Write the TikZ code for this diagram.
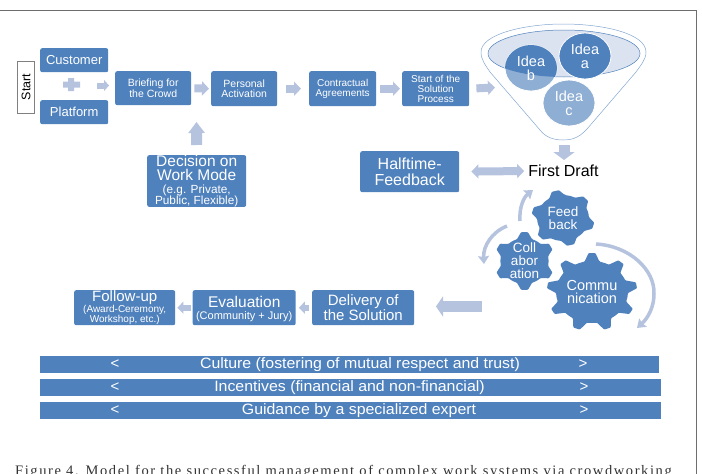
\documentclass[tikz,border=0pt]{standalone}
\usepackage{fontspec}
\setmainfont{Liberation Sans}
\newfontfamily\capfont[LetterSpace=11]{Liberation Serif}
\usetikzlibrary{arrows.meta,calc}
\definecolor{boxblue}{HTML}{4F81BD}
\definecolor{paleblue}{HTML}{B5C3DE}
\definecolor{midblue}{HTML}{8FAED4}
\definecolor{ideawash}{HTML}{DCE3F0}
\definecolor{framegray}{HTML}{6E6E6E}
\tikzset{
  x=1pt,y=-1pt,
  box/.style={fill=boxblue,rounded corners=2pt,text=white,align=center,inner sep=0pt,anchor=north west,font=\fontsize{#1}{#1}\selectfont},
  box/.default=10,
  band/.style={fill=boxblue,anchor=north west,inner sep=0pt},
  bandtext/.style={text=white,inner sep=0pt,font=\fontsize{15}{15}\selectfont},
  flow/.style={draw=paleblue,line width=#1,-{Triangle[length=7pt,width=1.75*#1]}},
  flow/.default=8pt,
  bothways/.style={draw=paleblue,line width=8pt,{Triangle[length=7pt,width=14pt]}-{Triangle[length=7pt,width=14pt]}},
  curl/.style={draw=paleblue,line width=3.5pt,line cap=butt,-{Stealth[length=8pt,width=11pt,inset=1pt]}},
  ideatext/.style={text=white,align=center,font=\fontsize{14.5}{14}\selectfont,inner sep=0pt},
  geartext/.style={text=white,align=center,font=\fontsize{#1}{13}\selectfont,inner sep=0pt},
}
% toothed wheel: centre x, y, body radius, tip radius, teeth, phase, horizontal stretch
\newcommand{\wheel}[7]{%
  \fill[boxblue,rounded corners=0.8pt]
    ({#1+#7*#3*cos(#6-0.30*360/#5)},{#2-#3*sin(#6-0.30*360/#5)})
    \foreach \k [evaluate=\k as \ang using #6+(\k-1)*360/#5, evaluate=\k as \wid using 360/#5] in {1,...,#5}{
      -- ({#1+#7*#3*cos(\ang-0.30*\wid)},{#2-#3*sin(\ang-0.30*\wid)})
      -- ({#1+#7*#4*cos(\ang-0.11*\wid)},{#2-#4*sin(\ang-0.11*\wid)})
      -- ({#1+#7*#4*cos(\ang+0.11*\wid)},{#2-#4*sin(\ang+0.11*\wid)})
      -- ({#1+#7*#3*cos(\ang+0.30*\wid)},{#2-#3*sin(\ang+0.30*\wid)})
      -- ({#1+#7*#3*cos(\ang+0.50*\wid)},{#2-#3*sin(\ang+0.50*\wid)})
    } -- cycle;}
\begin{document}
\begin{tikzpicture}
\useasboundingbox (0,0) rectangle (702,474);
\begin{scope}
\clip (0,0) rectangle (702,474);
% page frame
\draw[framegray,line width=0.9pt] (0,10) -- (696.5,10) -- (696.5,474);

% start marker and the two parties
\node[draw=gray,fill=white,line width=0.7pt,minimum width=17pt,minimum height=52pt,inner sep=0pt] (start) at (26,87)
  {\rotatebox{90}{\fontsize{12.5}{12}\selectfont Start}};
\node[box=13,minimum width=68pt,minimum height=24pt] (cust) at (40,48) {Customer};
\node[box=13,minimum width=68pt,minimum height=24pt] (plat) at (40,100) {Platform};
\fill[paleblue] (68,78) rectangle (74,91) (63,81.5) rectangle (80,87.5);

% top row
\node[box=10.5,minimum width=76pt,minimum height=34pt] (brief) at (115,71) {Briefing for\\the Crowd};
\node[box=10.5,minimum width=66pt,minimum height=35pt] (pers) at (211,71) {Personal\\Activation};
\node[box=10,minimum width=67pt,minimum height=35pt] (contr) at (309,71) {Contractual\\Agreements};
\node[box=10,minimum width=67pt,minimum height=35pt] (sol) at (402,71) {Start of the\\Solution\\Process};
\coordinate (plusout) at (97,85.5);
\coordinate (briefin) at (109,85.5);
\draw[flow=6pt,-{Triangle[length=5pt,width=11pt]}] (plusout) -- (briefin);
\draw[flow,shorten <=3pt,shorten >=2pt] (brief.east) -- (pers.west);
\draw[flow,shorten <=9pt,shorten >=8pt] (pers.east) -- (contr.west);
\draw[flow,shorten <=4pt,shorten >=2pt] (contr.east) -- (sol.west);
\coordinate (funnelin) at (495,87.5);
\draw[flow,shorten <=7pt] (sol.east) -- (funnelin);

% work-mode decision
\node[box=15.5,minimum width=99pt,minimum height=50pt] (mode) at (147,155)
  {Decision on\\[-1pt]Work Mode\\[-3pt]{\fontsize{11.8}{11}\selectfont (e.g. Private,}\\[-4.5pt]{\fontsize{11.8}{11}\selectfont Public, Flexible)}};
\coordinate (modeup) at (196.5,122);
\draw[flow=11pt,-{Triangle[length=11pt,width=16pt]},shorten <=10pt] (mode.north) -- (modeup);

% funnel of ideas
\draw[boxblue!70!white,line width=0.5pt,fill=white]
  (481,52) .. controls (481,34) and (525,24) .. (563,24) .. controls (605,24) and (646,34) .. (646,52)
  .. controls (646,60) and (640,66) .. (636,72) -- (587,129)
  .. controls (578,139) and (570,140) .. (563,140)
  .. controls (555,140) and (546,138) .. (540,130) -- (490,72)
  .. controls (486,66) and (481,60) .. (481,52) -- cycle;
\draw[boxblue,line width=0.5pt,fill=ideawash] (564,53.5) ellipse [x radius=76,y radius=23.5];
\fill[midblue,draw=white,line width=0.8pt] (569,103) ellipse [x radius=26,y radius=23];
\fill[midblue,draw=white,line width=0.8pt] (531,68) ellipse [x radius=26,y radius=23];
\begin{scope}
  \clip (564,53.5) ellipse [x radius=76,y radius=23.5];
  \fill[boxblue] (531,68) ellipse [x radius=26,y radius=23];
\end{scope}
\fill[boxblue,draw=white,line width=0.8pt] (585,56) ellipse [x radius=26,y radius=23];
\node[ideatext] (ida) at (585,56) {Idea\\a};
\node[ideatext] (idb) at (531,68) {Idea\\b};
\node[ideatext] (idc) at (569,103) {Idea\\c};

% first draft and halftime feedback
\node[font=\fontsize{16}{16}\selectfont,inner sep=1pt] (draft) at (563.5,171) {First Draft};
\coordinate (funnelout) at (564,145);
\coordinate (draftin) at (564,160);
\draw[flow=11pt,-{Triangle[length=8pt,width=21pt]}] (funnelout) -- (draftin);
\node[box=16,minimum width=99pt,minimum height=41pt] (half) at (360,151) {Halftime-\\Feedback};
\draw[bothways,shorten <=12pt,shorten >=3pt] (half.east) -- (draft.west);

% meshing wheels
\wheel{563}{218}{23}{28}{6}{104}{1.13}
\wheel{524.5}{261}{23}{29}{6}{90}{1.05}
\wheel{592}{292}{31}{39}{9}{90}{1.16}
\node[geartext=13.5] (feed) at (563,218) {Feed\\back};
\node[geartext=13.5] (coll) at (524.5,261) {Coll\\abor\\ation};
\node[geartext=14.5] (comm) at (592,292) {Commu\\nication};
\coordinate (fa) at (520,221);
\coordinate (fb) at (533,190);
\coordinate (ca) at (507,226);
\coordinate (cb) at (484,264);
\coordinate (ga) at (596,244);
\coordinate (gb) at (637,328);
\draw[curl] (fa) .. controls (519,207) and (524,197) .. (fb);
\draw[curl] (ca) .. controls (492,232) and (483,246) .. (cb);
\draw[curl] (ga) .. controls (630,246) and (655,270) .. (654,294) .. controls (654,307) and (648,318) .. (gb);

% closing row
\node[box=15,minimum width=102pt,minimum height=35pt] (deliv) at (312,290) {Delivery of\\the Solution};
\node[box=15.5,minimum width=103pt,minimum height=35pt] (eval) at (192.5,290) {\rule{0pt}{14pt}Evaluation\\[-3pt]{\fontsize{11}{11}\selectfont (Community + Jury)}};
\node[box=15,minimum width=101pt,minimum height=35pt] (foll) at (74,290) {Follow-up\\[-4pt]{\fontsize{10}{9}\selectfont (Award-Ceremony,}\\[-5pt]{\fontsize{10}{9}\selectfont Workshop, etc.)}};
\coordinate (gearout) at (482,306.5);
\coordinate (delivin) at (436,306.5);
\draw[flow=11pt,-{Triangle[length=7pt,width=20pt]}] (gearout) -- (delivin);
\draw[flow=6pt,-{Triangle[length=6pt,width=12pt]},shorten <=3pt,shorten >=3pt] (deliv.west) -- (eval.east);
\draw[flow=6pt,-{Triangle[length=6pt,width=12pt]},shorten <=2pt,shorten >=2pt] (eval.west) -- (foll.east);

% enabling conditions
\node[band,minimum width=619pt,minimum height=16.5pt] (b1) at (40,356) {};
\node[band,minimum width=621pt,minimum height=17pt] (b2) at (40,379) {};
\node[band,minimum width=621pt,minimum height=16.5pt] (b3) at (40,402) {};
\node[bandtext] (l1) at (115,364) {<};
\node[bandtext] (l2) at (115,387) {<};
\node[bandtext] (l3) at (115,410) {<};
\node[bandtext] (r1) at (583,364) {>};
\node[bandtext] (r2) at (584,387) {>};
\node[bandtext] (r3) at (584,410) {>};
\node[bandtext] (t1) at (360,365) {\scalebox{1.06}[1]{Culture (fostering of mutual respect and trust)}};
\node[bandtext] (t2) at (349.5,388) {\scalebox{1.06}[1]{Incentives (financial and non-financial)}};
\node[bandtext] (t3) at (359,411) {\scalebox{1.06}[1]{Guidance by a specialized expert}};

% caption
\node[anchor=base west,inner sep=0pt,text=black!80,font=\capfont\fontsize{14.5}{14}\selectfont] (cap) at (15,475.5)
  {Figure 4. Model for the successful management of complex work systems via crowdworking};
\end{scope}
\end{tikzpicture}
\end{document}
